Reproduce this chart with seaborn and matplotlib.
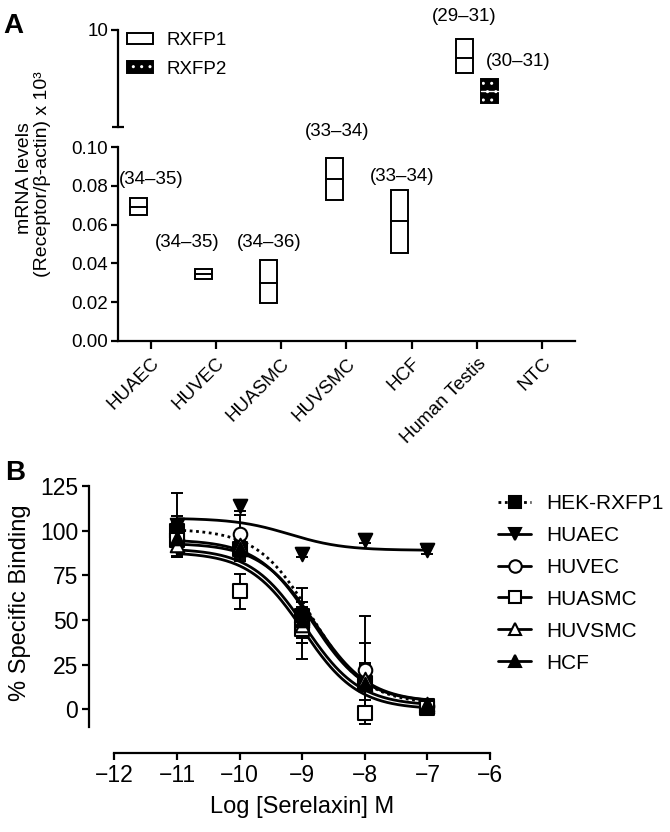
import numpy as np
import pandas as pd
import matplotlib
matplotlib.use("Agg")
import matplotlib.pyplot as plt
from matplotlib.lines import Line2D
from matplotlib.patches import Patch
import seaborn as sns

# ---------------- data: panel A ----------------
cells = ["HUAEC", "HUVEC", "HUASMC", "HUVSMC", "HCF", "Human Testis", "NTC"]
rxfp1_min = [0.065, 0.032, 0.0194, 0.0727, 0.0452, 5.6, np.nan]
rxfp1_med = [0.069, 0.0345, 0.030, 0.0835, 0.062, 7.1, np.nan]
rxfp1_max = [0.0739, 0.037, 0.0418, 0.0942, 0.0778, 9.1, np.nan]
rxfp2_min = [np.nan, np.nan, np.nan, np.nan, np.nan, 2.55, np.nan]
rxfp2_med = [np.nan, np.nan, np.nan, np.nan, np.nan, 3.8, np.nan]
rxfp2_max = [np.nan, np.nan, np.nan, np.nan, np.nan, 5.0, np.nan]
rxfp1_ct = ["(34–35)", "(34–35)", "(34–36)", "(33–34)", "(33–34)", "(29–31)", ""]
rxfp2_ct = ["", "", "", "", "", "(30–31)", ""]

# ---------------- data: panel B ----------------
log_conc = [-11, -10, -9, -8, -7]
series = ["HEK-RXFP1", "HUAEC", "HUVEC", "HUASMC", "HUVSMC", "HCF"]
binding = {
    "HEK-RXFP1": [100, 90, 52, 15, 2],
    "HUAEC":     [103, 114, 87, 95, 89],
    "HUVEC":     [95, 98, 48, 22, 2],
    "HUASMC":    [95, 66, 45, -2, 1],
    "HUVSMC":    [92, 92, 47, 17, 3],
    "HCF":       [96, 90, 50, 14, 2],
}
binding_sem = {
    "HEK-RXFP1": [8, 5, 8, 10, 2],
    "HUAEC":     [18, 3, 2, 2, 2],
    "HUVEC":     [10, 11, 20, 30, 2],
    "HUASMC":    [6, 10, 8, 2, 2],
    "HUVSMC":    [6, 8, 10, 20, 2],
    "HCF":       [8, 7, 10, 12, 2],
}
# one-site competition fit parameters
fit_top = [101, 107, 95, 88, 90, 93]
fit_bottom = [3, 89, 4, 0, 2, 4]
fit_logic50 = [-8.85, -9.2, -8.85, -8.98, -8.95, -8.8]

# ---------------- style ----------------
sns.set_theme(style="ticks")
plt.rcParams["font.family"] = ["Liberation Sans", "DejaVu Sans"]
plt.rcParams["axes.linewidth"] = 1.6
plt.rcParams["xtick.major.width"] = 1.6
plt.rcParams["ytick.major.width"] = 1.6
plt.rcParams["xtick.color"] = "black"
plt.rcParams["ytick.color"] = "black"
plt.rcParams["axes.edgecolor"] = "black"
plt.rcParams["text.color"] = "black"

W, H = 670, 832
fig = plt.figure(figsize=(W / 100, H / 100), dpi=100)


def px_axes(l, t, r, b):
    return fig.add_axes([l / W, 1 - b / H, (r - l) / W, (b - t) / H])


axAt = px_axes(118, 30, 575, 127)
axA = px_axes(118, 147, 575, 341)
axB = px_axes(89.3, 486, 490, 753.3)

fsA = 13.5
fsB = 16.5

# ---------------- panel A ----------------
xpos = np.arange(len(cells))
bw = 0.26
off = 0.19
lbl_off1 = [(9, 7), (-11.5, 13), (0, 6.5), (2, 13), (2, 3.6), (0, 10), (0, 0)]
lbl_off2 = [(0, 0)] * 5 + [(21, 6.5), (0, 0)]


def draw_box(ax, xc, lo, med, hi, hatched):
    if hatched:
        ax.bar(xc, hi - lo, bottom=lo, width=bw, facecolor="black",
               edgecolor="white", hatch="..", linewidth=0)
        ax.bar(xc, hi - lo, bottom=lo, width=bw, fill=False,
               edgecolor="black", linewidth=1.4)
        ax.plot([xc - bw / 2, xc + bw / 2], [med, med], color="white", lw=1.0)
    else:
        ax.bar(xc, hi - lo, bottom=lo, width=bw, facecolor="white",
               edgecolor="black", linewidth=1.4)
        ax.plot([xc - bw / 2, xc + bw / 2], [med, med], color="black", lw=1.4)


for i in range(len(cells)):
    for lo, med, hi, ct, sgn, hat, lo_off in [
        (rxfp1_min[i], rxfp1_med[i], rxfp1_max[i], rxfp1_ct[i], -1, False, lbl_off1[i]),
        (rxfp2_min[i], rxfp2_med[i], rxfp2_max[i], rxfp2_ct[i], 1, True, lbl_off2[i]),
    ]:
        if np.isnan(lo):
            continue
        ax = axAt if hi > 0.1 else axA
        xc = xpos[i] + sgn * off
        draw_box(ax, xc, lo, med, hi, hat)
        if ct:
            ax.annotate(ct, xy=(xc, hi), xytext=lo_off, textcoords="offset points",
                        ha="center", va="bottom", fontsize=fsA, annotation_clip=False)

axA.set_xlim(-0.5, len(cells) - 0.5)
axA.set_ylim(0, 0.10)
axA.set_yticks([0, 0.02, 0.04, 0.06, 0.08, 0.10])
axA.set_yticklabels([f"{v:.2f}" for v in [0, 0.02, 0.04, 0.06, 0.08, 0.10]], fontsize=fsA)
axA.set_xticks(xpos)
axA.set_xticklabels(cells, rotation=45, ha="right", rotation_mode="anchor", fontsize=fsA)
axA.tick_params(axis="x", length=6, pad=4)
axA.tick_params(axis="y", length=5, pad=2)
sns.despine(ax=axA)

axAt.set_xlim(-0.5, len(cells) - 0.5)
axAt.set_ylim(0.1, 10)
axAt.set_xticks([])
axAt.set_yticks([10])
axAt.set_yticklabels(["10"], fontsize=fsA)
axAt.set_yticks([0.1], minor=True)
axAt.tick_params(axis="y", which="minor", direction="inout", length=9, width=1.6)
axAt.tick_params(axis="y", which="major", length=5, pad=2)
sns.despine(ax=axAt, bottom=True)

legA = axAt.legend(
    handles=[Patch(facecolor="white", edgecolor="black", linewidth=1.4),
             (Patch(facecolor="black", edgecolor="white", hatch="..", linewidth=0),
              Patch(fill=False, edgecolor="black", linewidth=1.4))],
    labels=["RXFP1", "RXFP2"], loc="upper left",
    bbox_to_anchor=((127 - 118) / 457, 1 - (32 - 30) / 97),
    frameon=False, fontsize=fsA, handlelength=1.4, handleheight=0.55,
    handletextpad=0.7, labelspacing=0.62, borderpad=0, borderaxespad=0)

fig.text(25 / W, 1 - 178 / H, "mRNA levels", rotation=90, ha="center",
         va="center", fontsize=14)
fig.text(43 / W, 1 - 174 / H, "(Receptor/β-actin) x 10³", rotation=90,
         ha="center", va="center", fontsize=14)
fig.text(3 / W, 1 - 33 / H, "A", fontsize=20, fontweight="bold")

# ---------------- panel B ----------------
xfit = np.linspace(-11, -7, 200)
curve_rows = []
for k, name in enumerate(series):
    yfit = fit_bottom[k] + (fit_top[k] - fit_bottom[k]) / (1 + 10 ** (xfit - fit_logic50[k]))
    curve_rows.append(pd.DataFrame({"x": xfit, "y": yfit, "series": name}))
curves = pd.concat(curve_rows, ignore_index=True)
sns.lineplot(data=curves, x="x", y="y", hue="series", style="series",
             palette={s: "black" for s in series},
             dashes={s: ((1, 1.3) if s == "HEK-RXFP1" else "") for s in series},
             linewidth=2.0, legend=False, ax=axB, zorder=2)

markers = {"HEK-RXFP1": ("s", "black"), "HUAEC": ("v", "black"),
           "HUVEC": ("o", "white"), "HUASMC": ("s", "white"),
           "HUVSMC": ("^", "white"), "HCF": ("^", "black")}
for name in series:
    m, fc = markers[name]
    axB.errorbar(log_conc, binding[name], yerr=binding_sem[name], fmt="none",
                 ecolor="black", elinewidth=1.4, capsize=4, capthick=1.4, zorder=3)
    sns.scatterplot(x=log_conc, y=binding[name], marker=m, s=95,
                    facecolor=fc, edgecolor="black", linewidth=1.5,
                    ax=axB, zorder=4, legend=False)

axB.set_xlim(-12.40, -6.0)
axB.set_ylim(-24.6, 125)
axB.set_xticks([-12, -11, -10, -9, -8, -7, -6])
axB.set_xticklabels(["−12", "−11", "−10", "−9", "−8", "−7", "−6"], fontsize=fsB)
axB.set_yticks([0, 25, 50, 75, 100, 125])
axB.set_yticklabels(["0", "25", "50", "75", "100", "125"], fontsize=fsB)
axB.tick_params(length=5, pad=3)
sns.despine(ax=axB)
axB.spines["left"].set_bounds(-10, 125)
axB.spines["bottom"].set_bounds(-12, -6)
axB.set_xlabel("")
axB.set_ylabel("")

fig.text(302 / W, 1 - 807 / H, "Log [Serelaxin] M", ha="center", va="center", fontsize=17)
fig.text(20 / W, 1 - 603 / H, "% Specific Binding", ha="center", va="center",
         rotation=90, fontsize=17)
fig.text(5 / W, 1 - 480 / H, "B", fontsize=20, fontweight="bold")

handles = []
for name in series:
    m, fc = markers[name]
    handles.append(Line2D([0], [0], color="black", lw=2.0,
                          linestyle=(0, (1, 1.3)) if name == "HEK-RXFP1" else "-",
                          marker=m, markersize=9, markerfacecolor=fc,
                          markeredgecolor="black", markeredgewidth=1.5))
fig.legend(handles, series, loc="upper left", bbox_to_anchor=(498 / W, 1 - 494 / H),
           frameon=False, fontsize=15, handlelength=1.6, handletextpad=0.7,
           labelspacing=0.62, borderpad=0, borderaxespad=0)

fig.savefig("out.png", dpi=100)
